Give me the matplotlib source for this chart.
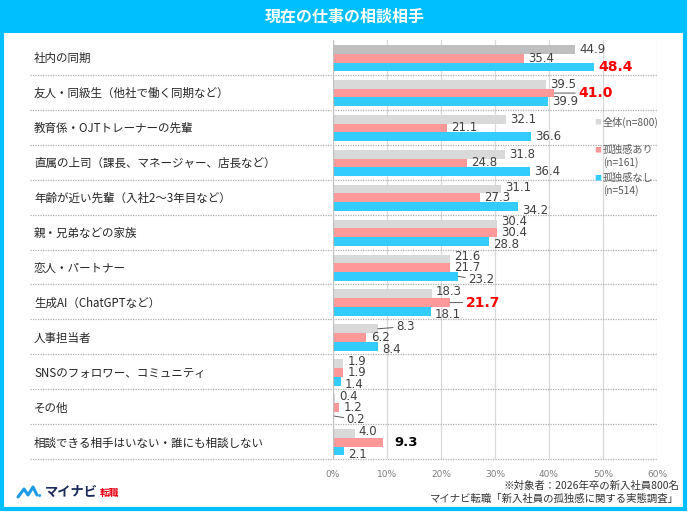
import matplotlib
matplotlib.use("Agg")
import matplotlib.pyplot as plt
from matplotlib.patches import Rectangle
from matplotlib.lines import Line2D

plt.rcParams['font.family'] = ['Noto Sans CJK JP', 'DejaVu Sans']

# data
categories = [
    "社内の同期",
    "友人・同級生（他社で働く同期など）",
    "教育係・OJTトレーナーの先輩",
    "直属の上司（課長、マネージャー、店長など）",
    "年齢が近い先輩（入社2～3年目など）",
    "親・兄弟などの家族",
    "恋人・パートナー",
    "生成AI（ChatGPTなど）",
    "人事担当者",
    "SNSのフォロワー、コミュニティ",
    "その他",
    "相談できる相手はいない・誰にも相談しない",
]
overall = [44.9, 39.5, 32.1, 31.8, 31.1, 30.4, 21.6, 18.3, 8.3, 1.9, 0.4, 4.0]
lonely = [35.4, 41.0, 21.1, 24.8, 27.3, 30.4, 21.7, 21.7, 6.2, 1.9, 1.2, 9.3]
not_lonely = [48.4, 39.9, 36.6, 36.4, 34.2, 28.8, 23.2, 18.1, 8.4, 1.4, 0.2, 2.1]
series_names = ["全体(n=800)", "孤独感あり\n(n=161)", "孤独感なし\n(n=514)"]
xticks = [0, 10, 20, 30, 40, 50, 60]

CYAN = "#00bfff"
GRAY = "#d9d9d9"
PINK = "#ff9999"
BLUE = "#33ccff"
TXT = "#404040"

W, H = 691, 514
fig = plt.figure(figsize=(W / 100, H / 100), dpi=100)

def fx(x):
    return x / W

def fy(y):
    return 1 - y / H

# frame and title bar
fig.patches.append(Rectangle((fx(1.5), fy(508.5)), fx(683), (507) / H, transform=fig.transFigure,
                             fill=False, edgecolor=CYAN, linewidth=3, zorder=0))
fig.patches.append(Rectangle((0, fy(33)), fx(686), 33 / H, transform=fig.transFigure,
                             facecolor=CYAN, edgecolor="none", zorder=1))
fig.text(fx(345), fy(17), "現在の仕事の相談相手", color="white", fontsize=11.5,
         fontweight="bold", ha="center", va="center")

ax = fig.add_axes([fx(333), fy(459), fx(657) - fx(333), (459 - 40) / H])
n = len(categories)
bh = 0.25
rows = range(n)
c0 = [i + 0.52 - bh for i in rows]
c1 = [i + 0.52 for i in rows]
c2 = [i + 0.52 + bh for i in rows]

gray_cols = ["#bfbfbf"] + [GRAY] * (n - 1)
ax.barh(c0, overall, height=bh, color=gray_cols, zorder=3)
ax.barh(c1, lonely, height=bh, color=PINK, zorder=3)
ax.barh(c2, not_lonely, height=bh, color=BLUE, zorder=3)

ax.set_xlim(0, 60)
ax.set_ylim(n, 0)
for s in ax.spines.values():
    s.set_visible(False)
ax.set_yticks([])
ax.set_xticks(xticks)
ax.set_xticklabels([f"{t}%" for t in xticks], fontsize=6.5, color="#7f7f7f",
                   family=['Liberation Sans Narrow', 'DejaVu Sans'])
ax.tick_params(axis="x", length=0, pad=8)
for t in xticks[1:]:
    ax.axvline(t, color="#d9d9d9", linewidth=0.9, zorder=1)
ax.axvline(0, color="#bfbfbf", linewidth=0.9, zorder=4)

# row separators reaching into the label area
for i in range(1, n + 1):
    ax.axhline(i, xmin=(30 - 333) / 324, xmax=1, color="#b0b0b0", linewidth=0.9,
               linestyle=(0, (1, 1)), clip_on=False, zorder=2)

for i, name in enumerate(categories):
    fig.text(fx(34), fy(40 + 35 * i + 18.5), name, fontsize=8.3, color="#262626",
             ha="left", va="center")

# value labels
num_font = ['Liberation Sans Narrow', 'DejaVu Sans']
special = {
    (0, 2): dict(color="red", weight="bold", size=10),
    (1, 1): dict(dx=17, color="red", weight="bold", size=10, leader=True),
    (6, 2): dict(dx=7, leader=True),
    (7, 1): dict(dx=11, color="red", weight="bold", size=10, leader=True),
    (8, 0): dict(dx=13, leader=True),
    (10, 2): dict(dx=9, leader=True),
    (11, 1): dict(dx=8, color="black", weight="bold", size=9.5),
}
stagger = [1.5, 0, -2.5]
for k, (vals, cen) in enumerate([(overall, c0), (lonely, c1), (not_lonely, c2)]):
    for i, v in enumerate(vals):
        sp = special.get((i, k), {})
        dx = sp.get("dx", 3)
        dy = stagger[k] if i >= 4 else 0
        ax.annotate(f"{v:.1f}", (v, cen[i]), xytext=(dx, dy), textcoords="offset points",
                    ha="left", va="center", fontsize=sp.get("size", 8.5),
                    color=sp.get("color", TXT), fontweight=sp.get("weight", "normal"),
                    family=num_font, zorder=5,
                    arrowprops=dict(arrowstyle="-", color="#595959", lw=0.7,
                                    shrinkA=0, shrinkB=0) if sp.get("leader") else None)

# legend
leg_cols = ["#d9d9d9", PINK, BLUE]
leg_y = [122, 150, 178]
for col, name, y in zip(leg_cols, series_names, leg_y):
    fig.text(fx(598), fy(y), "■", color=col, fontsize=5, ha="center", va="center")
    lines = name.split("\n")
    fig.text(fx(603), fy(y), lines[0], color="#595959", fontsize=7.3, ha="left", va="center")
    if len(lines) > 1:
        fig.text(fx(603), fy(y + 13), lines[1], color="#595959", fontsize=7.3, ha="left",
                 va="center")

# footnote
fig.text(fx(679), fy(486), "※対象者：2026年卒の新入社員800名", fontsize=7.5, color="#333333",
         ha="right", va="center")
fig.text(fx(679), fy(499), "マイナビ転職「新入社員の孤独感に関する実態調査」", fontsize=7.5,
         color="#333333", ha="right", va="center")

# logo
fig.lines.append(Line2D([fx(18), fx(24), fx(28), fx(33), fx(37)],
                        [fy(497), fy(489), fy(495), fy(487), fy(495)],
                        transform=fig.transFigure, color="#1e9be6", linewidth=2.2,
                        solid_capstyle="round", solid_joinstyle="round"))
fig.text(fx(39.5), fy(496), "●", color="#1e9be6", fontsize=2.5, ha="center", va="center")
fig.text(fx(45), fy(492), "マイナビ", color="#1a2a5a", fontsize=9.5, fontweight="bold",
         ha="left", va="center")
fig.text(fx(100), fy(493), "転職", color="#e60012", fontsize=7, fontweight="bold",
         ha="left", va="center")

fig.savefig("out.png", dpi=100, facecolor="white")
